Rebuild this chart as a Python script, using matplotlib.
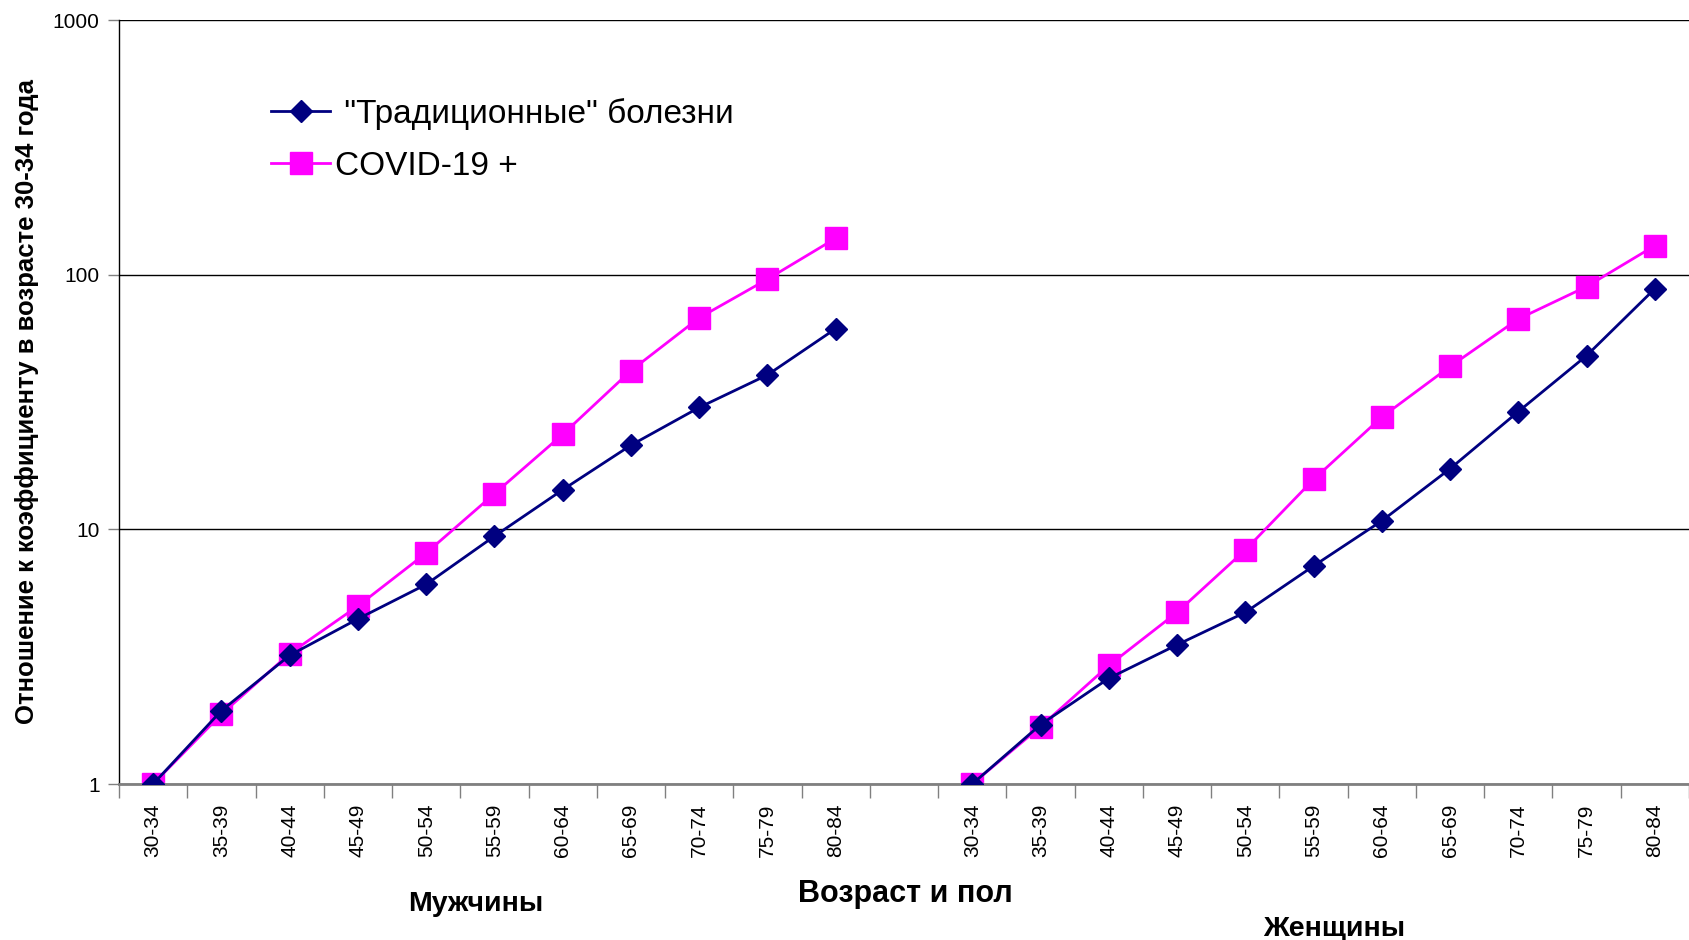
import numpy as np
import matplotlib
matplotlib.use("Agg")
from matplotlib import pyplot as plt
from matplotlib.ticker import FixedLocator, NullFormatter

plt.rcParams['font.family'] = ['Liberation Sans', 'DejaVu Sans']

ages = ["30-34", "35-39", "40-44", "45-49", "50-54", "55-59",
        "60-64", "65-69", "70-74", "75-79", "80-84"]

# отношение к коэффициенту в 30-34 года
men_trad = [1, 1.94, 3.2, 4.45, 6.08, 9.4, 14.3, 21.4, 30.1, 40.4, 61.4]
men_covid = [1, 1.88, 3.25, 5.0, 8.07, 13.8, 23.6, 42.0, 67.7, 96.0, 139]
women_trad = [1, 1.71, 2.6, 3.52, 4.72, 7.18, 10.8, 17.3, 29.0, 48.1, 88.1]
women_covid = [1, 1.68, 2.92, 4.72, 8.3, 15.7, 27.6, 43.6, 67.0, 89.8, 130]

labels = ages + [""] + ages
n = len(ages)
x_men = np.arange(n)
x_women = np.arange(n) + n + 1

navy = "#000080"
pink = "#FF00FF"

fig = plt.figure(figsize=(16.89, 9.40), dpi=100)
ax = fig.add_axes([119 / 1689, 1 - 784 / 940, 1 - 119 / 1689, (784 - 20) / 940])

ax.plot(x_men, men_trad, color=navy, lw=2, marker="D", ms=11,
        label=' "Традиционные" болезни', zorder=3)
ax.plot(x_men, men_covid, color=pink, lw=2, marker="s", ms=16,
        label="COVID-19 +", zorder=2)
ax.plot(x_women, women_trad, color=navy, lw=2, marker="D", ms=11, zorder=3)
ax.plot(x_women, women_covid, color=pink, lw=2, marker="s", ms=16, zorder=2)

ax.set_yscale("log")
ax.set_ylim(1, 1000)
ax.set_xlim(-0.5, len(labels) - 0.5)
ax.set_yticks([1, 10, 100, 1000])
ax.set_yticklabels(["1", "10", "100", "1000"], fontsize=15)
ax.yaxis.set_minor_locator(FixedLocator([]))
ax.yaxis.set_minor_formatter(NullFormatter())
ax.tick_params(axis="y", which="major", length=8, width=1, color="#808080", pad=6)

ax.set_xticks(np.arange(len(labels)))
ax.set_xticklabels(labels, rotation=90, fontsize=15)
ax.set_xticks(np.arange(len(labels) + 1) - 0.5, minor=True)
ax.tick_params(axis="x", which="major", length=0, pad=14)
ax.tick_params(axis="x", which="minor", length=10, width=1, color="#808080")

ax.grid(True, axis="y", which="major", color="black", lw=1)
ax.set_axisbelow(True)
for s in ["top", "right"]:
    ax.spines[s].set_visible(False)
ax.spines["left"].set_color("black")
ax.spines["left"].set_linewidth(1)
ax.spines["bottom"].set_color("#808080")
ax.spines["bottom"].set_linewidth(2)

ax.set_ylabel("Отношение к коэффициенту в возрасте 30-34 года",
              fontsize=18.5, fontweight="bold", labelpad=10)

fig.text(905 / 1689, 1 - 894 / 940, "Возраст и пол", fontsize=22,
         fontweight="bold", ha="center", va="center")
fig.text(476 / 1689, 1 - 904 / 940, "Мужчины", fontsize=20.5,
         fontweight="bold", ha="center", va="center")
fig.text(1334 / 1689, 1 - 929 / 940, "Женщины", fontsize=20.5,
         fontweight="bold", ha="center", va="center")

ax.legend(loc="upper left", bbox_to_anchor=(241 / 1689, 1 - 68 / 940),
          bbox_transform=fig.transFigure, frameon=False, fontsize=24,
          handlelength=1.77, handletextpad=0.15, labelspacing=0.62)

fig.savefig("out.png", dpi=100)
